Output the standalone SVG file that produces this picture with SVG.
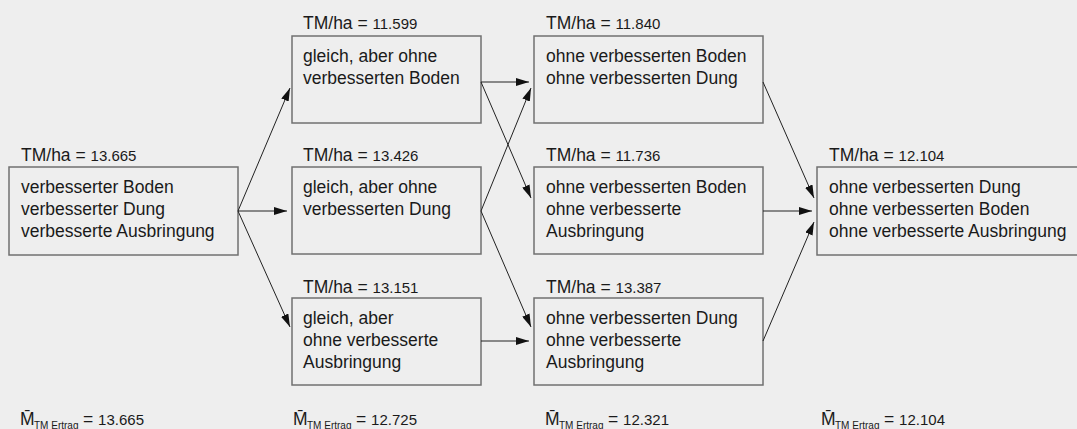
<svg xmlns="http://www.w3.org/2000/svg" width="1077" height="429" viewBox="0 0 1077 429">
<defs>
<marker id="ah" markerUnits="userSpaceOnUse" markerWidth="14" markerHeight="8" refX="13" refY="4" orient="auto">
<path d="M0,0 L13,4 L0,8 z" fill="#111"/>
</marker>
<style>
.box{fill:#eeeeee;stroke:#707070;stroke-width:1.5}
.t{font-family:"Liberation Sans",Arial,sans-serif;font-size:17.5px;fill:#1a1a1a}
.n{font-size:15px}
.sub{font-family:"Liberation Sans",Arial,sans-serif;font-size:10px;fill:#1a1a1a}
.c line{stroke:#222;stroke-width:1;marker-end:url(#ah)}
</style>
</defs>
<rect width="1077" height="429" fill="#eeeeee"/>

<g id="nodeA">
<text class="t" x="21" y="161">TM/ha = <tspan class="n">13.665</tspan></text>
<rect class="box" x="9" y="167" width="229" height="88"/>
<text class="t" x="21" y="193">verbesserter Boden</text>
<text class="t" x="21" y="215">verbesserter Dung</text>
<text class="t" x="21" y="237">verbesserte Ausbringung</text>
</g>

<g id="nodeB1">
<text class="t" x="303" y="29">TM/ha = <tspan class="n">11.599</tspan></text>
<rect class="box" x="292" y="36" width="189" height="87"/>
<text class="t" x="303" y="62">gleich, aber ohne</text>
<text class="t" x="303" y="84">verbesserten Boden</text>
</g>

<g id="nodeB2">
<text class="t" x="303" y="161">TM/ha = <tspan class="n">13.426</tspan></text>
<rect class="box" x="292" y="167" width="189" height="87"/>
<text class="t" x="303" y="193">gleich, aber ohne</text>
<text class="t" x="303" y="215">verbesserten Dung</text>
</g>

<g id="nodeB3">
<text class="t" x="303" y="293">TM/ha = <tspan class="n">13.151</tspan></text>
<rect class="box" x="292" y="298" width="189" height="87"/>
<text class="t" x="303" y="324">gleich, aber</text>
<text class="t" x="303" y="346">ohne verbesserte</text>
<text class="t" x="303" y="368">Ausbringung</text>
</g>

<g id="nodeC1">
<text class="t" x="546" y="29">TM/ha = <tspan class="n">11.840</tspan></text>
<rect class="box" x="534" y="36" width="229" height="87"/>
<text class="t" x="546" y="62">ohne verbesserten Boden</text>
<text class="t" x="546" y="84">ohne verbesserten Dung</text>
</g>

<g id="nodeC2">
<text class="t" x="546" y="161">TM/ha = <tspan class="n">11.736</tspan></text>
<rect class="box" x="534" y="167" width="229" height="87"/>
<text class="t" x="546" y="193">ohne verbesserten Boden</text>
<text class="t" x="546" y="215">ohne verbesserte</text>
<text class="t" x="546" y="237">Ausbringung</text>
</g>

<g id="nodeC3">
<text class="t" x="546" y="293">TM/ha = <tspan class="n">13.387</tspan></text>
<rect class="box" x="534" y="298" width="229" height="87"/>
<text class="t" x="546" y="324">ohne verbesserten Dung</text>
<text class="t" x="546" y="346">ohne verbesserte</text>
<text class="t" x="546" y="368">Ausbringung</text>
</g>

<g id="nodeD">
<text class="t" x="829" y="161">TM/ha = <tspan class="n">12.104</tspan></text>
<rect class="box" x="817" y="167" width="270" height="88"/>
<text class="t" x="829" y="193">ohne verbesserten Dung</text>
<text class="t" x="829" y="215">ohne verbesserten Boden</text>
<text class="t" x="829" y="237">ohne verbesserte Ausbringung</text>
</g>

<g id="connectors" class="c">
<line x1="238" y1="211" x2="290" y2="88"/>
<line x1="238" y1="211" x2="287" y2="211"/>
<line x1="238" y1="211" x2="290" y2="327"/>
<line x1="481" y1="82" x2="529" y2="82"/>
<line x1="481" y1="82" x2="531" y2="198"/>
<line x1="481" y1="211" x2="531" y2="88"/>
<line x1="481" y1="211" x2="531" y2="327"/>
<line x1="481" y1="341" x2="529" y2="341"/>
<line x1="763" y1="82" x2="814" y2="198"/>
<line x1="763" y1="211" x2="812" y2="211"/>
<line x1="763" y1="341" x2="814" y2="222"/>
</g>

<g id="means">
<text class="t" x="20" y="425">M̄</text><text class="sub" x="34" y="429">TM Ertrag</text><text class="t" x="83" y="425">= <tspan class="n">13.665</tspan></text>
<text class="t" x="293" y="425">M̄</text><text class="sub" x="307" y="429">TM Ertrag</text><text class="t" x="356" y="425">= <tspan class="n">12.725</tspan></text>
<text class="t" x="545" y="425">M̄</text><text class="sub" x="559" y="429">TM Ertrag</text><text class="t" x="608" y="425">= <tspan class="n">12.321</tspan></text>
<text class="t" x="821" y="425">M̄</text><text class="sub" x="835" y="429">TM Ertrag</text><text class="t" x="884" y="425">= <tspan class="n">12.104</tspan></text>
</g>
</svg>
